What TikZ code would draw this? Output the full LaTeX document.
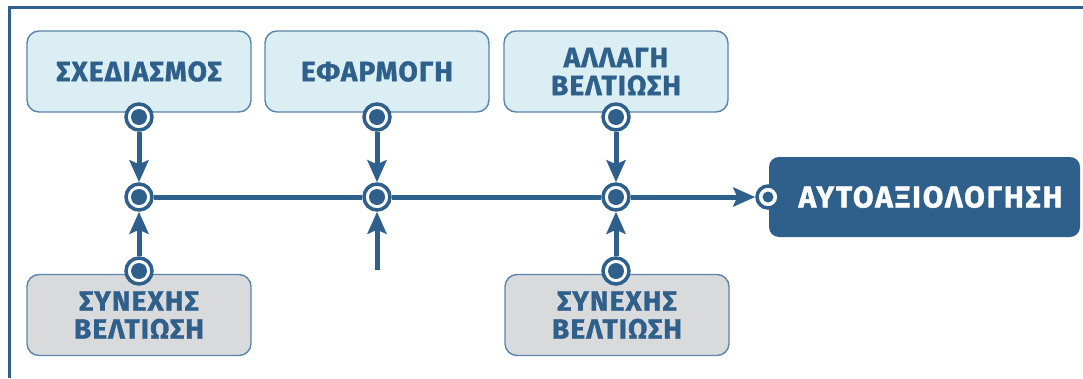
\documentclass[tikz,border=0pt]{standalone}
\usepackage{fontspec}
\setmainfont{Fira Sans}
\newfontfamily\boxfont[LetterSpace=4,BoldFeatures={FakeBold=1.2}]{Fira Sans}
\newfontfamily\outfont[LetterSpace=6,BoldFeatures={FakeBold=1.2}]{Fira Sans}
\usetikzlibrary{arrows.meta}
\definecolor{dk}{HTML}{2F5F8B}
\definecolor{lb}{HTML}{DAEEF4}
\definecolor{gr}{HTML}{D9DADC}
\definecolor{bd}{HTML}{5B84AA}
\tikzset{
  box/.style={draw=bd, line width=1.4pt, rounded corners=12pt, minimum width=224pt, minimum height=81pt,
    align=center, text=dk, font=\boxfont\fontsize{28}{28}\selectfont\bfseries, inner sep=0pt},
  topbox/.style={box, fill=lb},
  botbox/.style={box, fill=gr},
  outbox/.style={fill=dk, rounded corners=10pt, minimum width=311pt, minimum height=80pt, text=white,
    font=\outfont\fontsize{30}{30}\selectfont\bfseries, inner sep=0pt},
  port/.style={circle, draw=dk, line width=3.5pt, fill=white, minimum size=26pt, inner sep=0pt,
    path picture={\fill[dk] (path picture bounding box.center) circle (8pt);}},
  oport/.style={circle, draw=dk, line width=3.5pt, fill=white, minimum size=22pt, inner sep=0pt,
    path picture={\fill[dk] (path picture bounding box.center) circle (5.5pt);}},
  arr/.style={draw=dk, line width=5pt, -{Stealth[length=22pt, width=19pt, inset=4pt]}},
  ln/.style={draw=dk, line width=5pt},
  frame/.style={draw=dk, line width=2.7pt}
}
\begin{document}
\begin{tikzpicture}[x=1pt, y=1pt]
\useasboundingbox (0,0) rectangle (1083,-378);
\draw[frame] (1083,-7.3) -- (9.5,-7.3) -- (9.5,-378);
% boxes
\node[topbox] (s) at (139,-71.5) {ΣΧΕΔΙΑΣΜΟΣ};
\node[topbox] (e) at (377,-71.5) {ΕΦΑΡΜΟΓΗ};
\node[topbox] (a) at (616,-71.5) {ΑΛΛΑΓΗ\\ΒΕΛΤΙΩΣΗ};
\node[botbox] (c1) at (139,-315) {ΣΥΝΕΧΗΣ\\ΒΕΛΤΙΩΣΗ};
\node[botbox] (c2) at (617,-315) {ΣΥΝΕΧΗΣ\\ΒΕΛΤΙΩΣΗ};
\node[outbox] (o) at (924.5,-197) {\hspace*{12pt}ΑΥΤΟΑΞΙΟΛΟΓΗΣΗ};
% ports
\node[port] (p1t) at (139,-117) {};
\node[port] (p2t) at (377,-117) {};
\node[port] (p3t) at (616,-117) {};
\node[port] (p1m) at (139,-197) {};
\node[port] (p2m) at (377,-197) {};
\node[port] (p3m) at (616,-197) {};
\node[port] (p1b) at (139,-271) {};
\node[port] (p3b) at (616,-271) {};
\node[oport] (po) at (768,-197) {};
\coordinate (c2b) at (377,-270);
% connectors
\draw[arr] (p1t) -- (p1m);
\draw[arr] (p2t) -- (p2m);
\draw[arr] (p3t) -- (p3m);
\draw[arr] (p1b) -- (p1m);
\draw[arr] (c2b) -- (p2m);
\draw[arr] (p3b) -- (p3m);
\draw[ln] (p1m) -- (p2m);
\draw[ln] (p2m) -- (p3m);
\draw[arr] (p3m) -- (po);
\end{tikzpicture}
\end{document}
